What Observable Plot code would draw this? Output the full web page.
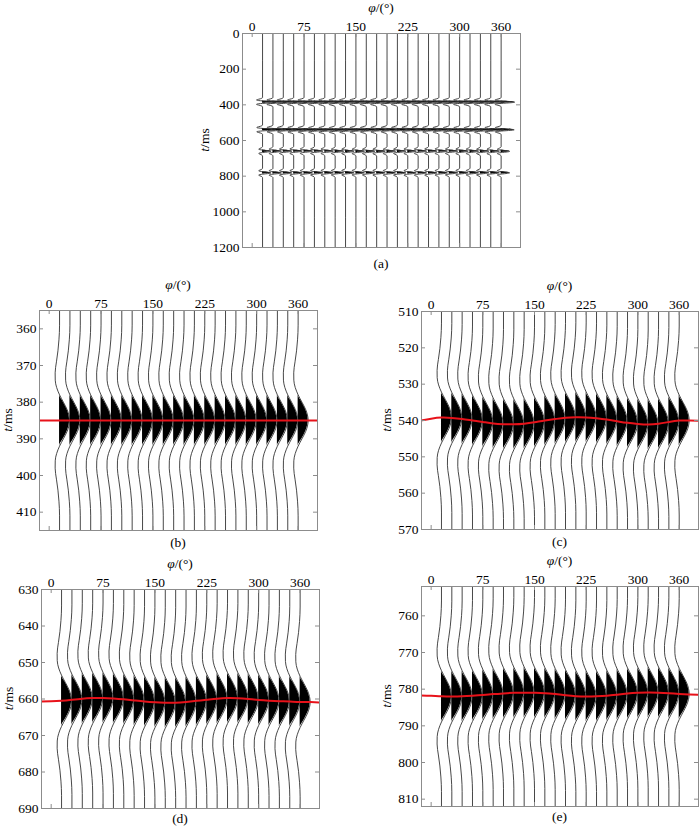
<!DOCTYPE html>
<html><head><meta charset="utf-8">
<script src="https://cdn.jsdelivr.net/npm/d3@7"></script>
<script src="https://cdn.jsdelivr.net/npm/@observablehq/plot@0.6"></script>
<style>
body{margin:0;background:#fff;}
#root{position:relative;width:700px;height:826px;overflow:hidden;font-family:'Liberation Serif',serif;}
#root svg{position:absolute;max-width:none;overflow:visible;}
#root svg text{font-family:'Liberation Serif',serif !important;}
</style></head><body><div id="root"></div>
<script>
// trace azimuths (degrees)
const traceAz = [15,30,45,60,75,90,105,120,135,150,165,180,195,210,225,240,255,270,285,300,315,330,345,360];
const xTicks = [0,75,150,225,300,360];
// azimuths at which the event-time curves were read
const curveAz = [-15,0,15,30,45,60,75,90,105,120,135,150,165,180,195,210,225,240,255,270,285,300,315,330,345,360,375,390];
// event (peak) times, ms
const tB = [385,385,385,385,385,385,385,385,385,385,385,385,385,385,385,385,385,385,385,385,385,385,385,385,385,385,385,385];
const tC = [540.0,539.5,539.2,539.3,539.6,540.0,540.4,540.8,541.0,541.05,540.9,540.5,540.0,539.6,539.25,539.1,539.15,539.4,539.75,540.2,540.65,540.95,541.1,540.9,540.4,540.0,540.0,540.1];
const tD = [660.7,660.65,660.5,660.2,659.9,659.75,659.7,659.85,660.1,660.4,660.7,660.9,661.0,661.0,660.8,660.5,660.2,659.9,659.75,659.8,660.0,660.25,660.45,660.6,660.7,660.8,660.85,660.95];
const tE = [781.7,781.8,781.95,782.0,781.95,781.8,781.6,781.35,781.15,781.0,780.95,781.0,781.1,781.35,781.65,781.9,782.0,781.95,781.8,781.5,781.2,781.0,780.9,780.95,781.1,781.3,781.45,781.55];
// relative amplitudes of the four events in panel (a)
const ampA = [1.35, 1.3, 0.85, 0.85];
// wavelet shape: time offset (ms) and normalised amplitude
const waveOffset = [-26,-22,-19,-16,-13,-11,-9,-7,-5,-3,-1.5,0,1.5,3,5,7,9,11,13,16,19,22,26];
const waveAmp =    [0,-0.06,-0.16,-0.31,-0.44,-0.43,-0.29,0,0.38,0.75,0.93,1,0.93,0.75,0.38,0,-0.29,-0.43,-0.44,-0.31,-0.16,-0.06,0];
const gain = 14.5; // peak amplitude in degrees of azimuth
// y ticks
const yTicksA = [0,200,400,600,800,1000,1200];
const yTicksB = [360,370,380,390,400,410];
const yTicksC = [510,520,530,540,550,560,570];
const yTicksD = [630,640,650,660,670,680,690];
const yTicksE = [760,770,780,790,800,810];
const captions = ["(a)","(b)","(c)","(d)","(e)"];

const xDomain = [-14, 388];
const frameColor = "#8c8c8c";
const FONT = "'Liberation Serif', serif";
const root = document.getElementById("root");

function eventAt(curve, az){ return curve[curveAz.indexOf(az)]; }

function buildTraces(curves, amps, yDomain){
  const rows = [];
  for (const az of traceAz){
    rows.push({az, t: yDomain[0] - 60, w: 0});
    curves.forEach((c, j) => {
      const ev = eventAt(c, az);
      for (let k = 0; k < waveOffset.length; k++) rows.push({az, t: ev + waveOffset[k], w: waveAmp[k] * amps[j]});
    });
    rows.push({az, t: yDomain[1] + 60, w: 0});
  }
  return rows;
}

function makePanel(cfg){
  const padL = 55, padT = 45, padR = 2, padB = 30;
  const innerW = cfg.r - cfg.l, innerH = cfg.b - cfg.t;
  const width = innerW + padL + padR, height = innerH + padT + padB;
  const rows = buildTraces(cfg.curves, cfg.amps, cfg.yDomain);
  const marks = [
    Plot.areaX(rows, {y: "t", x1: "az", x2: d => d.az + Math.max(0, d.w) * gain, z: "az", fill: "#000", curve: "monotone-y", clip: true}),
    Plot.line(rows, {x: d => d.az + d.w * gain, y: "t", z: "az", stroke: "#333", strokeWidth: 0.9, curve: "monotone-y", clip: true})
  ];
  if (cfg.red){
    const redRows = curveAz.map((a, i) => ({az: a, t: cfg.red[i]}));
    marks.push(Plot.line(redRows, {x: "az", y: "t", stroke: "#e8121a", strokeWidth: 2, curve: "natural", clip: true}));
  }
  marks.push(
    Plot.frame({stroke: frameColor}),
    Plot.tickX(xTicks, {x: d => d, insetBottom: innerH - 4, stroke: frameColor}),
    Plot.tickX(xTicks, {x: d => d, insetTop: innerH - 4, stroke: frameColor}),
    Plot.tickY(cfg.yTicks, {y: d => d, insetRight: innerW - 4, stroke: frameColor}),
    Plot.tickY(cfg.yTicks, {y: d => d, insetLeft: innerW - 4, stroke: frameColor}),
    Plot.axisX({anchor: "top", ticks: xTicks, tickSize: 0, tickPadding: 3, tickFormat: d => String(d), label: null, fill: "#000"}),
    Plot.axisY({anchor: "left", ticks: cfg.yTicks, tickSize: 0, tickPadding: 3, tickFormat: d => String(d), label: null, fill: "#000"})
  );
  const svg = Plot.plot({
    width, height,
    marginLeft: padL, marginRight: padR, marginTop: padT, marginBottom: padB,
    x: {domain: xDomain},
    y: {domain: cfg.yDomain, reverse: true},
    style: {fontFamily: FONT, fontSize: "13.5px", background: "transparent", overflow: "visible"},
    marks
  });
  svg.style.left = (cfg.l - padL) + "px";
  svg.style.top = (cfg.t - padT) + "px";
  const s = d3.select(svg);
  const cx = padL + innerW / 2;
  const g = s.append("g").style("font-family", FONT).attr("font-size", 13.5).attr("fill", "#000");
  const phi = g.append("text").attr("x", cx).attr("y", padT - 21).attr("text-anchor", "middle");
  phi.append("tspan").attr("font-style", "italic").text("φ");
  phi.append("tspan").text("/(°)");
  const yl = g.append("text").attr("transform", `translate(${padL - cfg.ylab},${padT + innerH / 2}) rotate(-90)`).attr("text-anchor", "middle");
  yl.append("tspan").attr("font-style", "italic").text("t");
  yl.append("tspan").text("/ms");
  g.append("text").attr("x", cx).attr("y", padT + innerH + cfg.cap).attr("text-anchor", "middle").text(cfg.caption);
  root.appendChild(svg);
}

makePanel({l: 242, r: 520, t: 33, b: 247, yDomain: [0, 1200], yTicks: yTicksA, curves: [tB, tC, tD, tE], amps: ampA, red: null, caption: captions[0], ylab: 33, cap: 21});
makePanel({l: 39, r: 317, t: 310, b: 530, yDomain: [355, 415], yTicks: yTicksB, curves: [tB], amps: [1], red: tB, caption: captions[1], ylab: 27, cap: 17});
makePanel({l: 421, r: 698, t: 311, b: 529, yDomain: [510, 570], yTicks: yTicksC, curves: [tC], amps: [1], red: tC, caption: captions[2], ylab: 30, cap: 17});
makePanel({l: 41, r: 319, t: 589, b: 808, yDomain: [630, 690], yTicks: yTicksD, curves: [tD], amps: [1], red: tD, caption: captions[3], ylab: 28, cap: 15});
makePanel({l: 421, r: 698, t: 586, b: 806, yDomain: [752, 812], yTicks: yTicksE, curves: [tE], amps: [1], red: tE, caption: captions[4], ylab: 30, cap: 15});
</script></body></html>
